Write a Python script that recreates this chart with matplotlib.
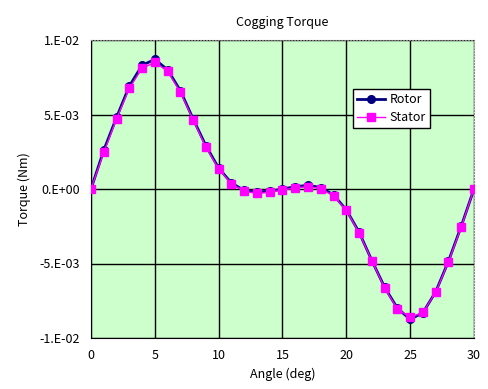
import matplotlib
matplotlib.use("Agg")
import matplotlib.pyplot as plt

# --- data ---
angle = list(range(0, 31))
rotor = [0.0, 2.6, 4.8, 6.9, 8.3, 8.7, 8.0, 6.6, 4.7, 2.9, 1.4, 0.4, -0.1, -0.2, -0.15,
         0.0, 0.15, 0.25, 0.1, -0.4, -1.4, -2.9, -4.8, -6.6, -8.0, -8.75, -8.3, -6.9,
         -4.85, -2.5, 0.0]
stator = [0.0, 2.45, 4.7, 6.75, 8.1, 8.5, 7.9, 6.5, 4.65, 2.8, 1.35, 0.35, -0.15, -0.3,
          -0.22, -0.08, 0.08, 0.15, 0.03, -0.47, -1.43, -2.95, -4.8, -6.65, -8.05, -8.62,
          -8.28, -6.93, -4.9, -2.55, 0.0]
rotor = [v * 1e-3 for v in rotor]
stator = [v * 1e-3 for v in stator]
yticks = [-1e-2, -5e-3, 0, 5e-3, 1e-2]
ytick_labels = ["-1.E-02", "-5.E-03", "0.E+00", "5.E-03", "1.E-02"]
xticks = [0, 5, 10, 15, 20, 25, 30]

plt.rcParams['font.family'] = ['Noto Sans CJK JP', 'DejaVu Sans']

fig = plt.figure(figsize=(4.89, 3.89), dpi=100)
ax = fig.add_axes([91 / 489, 1 - 338 / 389, 383 / 489, 298 / 389])
ax.set_facecolor('#CCFFCC')

ax.plot(angle, rotor, color='#000080', lw=2, marker='o', markersize=5.5, label='Rotor', zorder=3)
ax.plot(angle, stator, color='#FF00FF', lw=1, marker='s', markersize=5.5, label='Stator', zorder=4)

ax.set_xlim(0, 30)
ax.set_ylim(-1e-2, 1e-2)
ax.set_xticks(xticks)
ax.set_yticks(yticks)
ax.set_yticklabels(ytick_labels)
ax.tick_params(length=0, labelsize=9, pad=8)
ax.grid(True, color='black', lw=1)
ax.set_axisbelow(True)

for side in ['left', 'bottom']:
    ax.spines[side].set_color('black')
for side in ['top', 'right']:
    ax.spines[side].set_color('#888888')
    ax.spines[side].set_linestyle(':')

ax.set_title('Cogging Torque', fontsize=9, pad=10)
ax.set_xlabel('Angle (deg)', fontsize=9, labelpad=4)
ax.set_ylabel('Torque (Nm)', fontsize=9, labelpad=6)

leg = ax.legend(loc='upper left', bbox_to_anchor=(0.685, 0.835), fontsize=9,
                frameon=True, fancybox=False, edgecolor='black', framealpha=1,
                borderpad=0.3, handlelength=2.2, handletextpad=0.4, labelspacing=0.4,
                borderaxespad=0)
leg.get_frame().set_linewidth(1)

fig.savefig('out.png', dpi=100)
